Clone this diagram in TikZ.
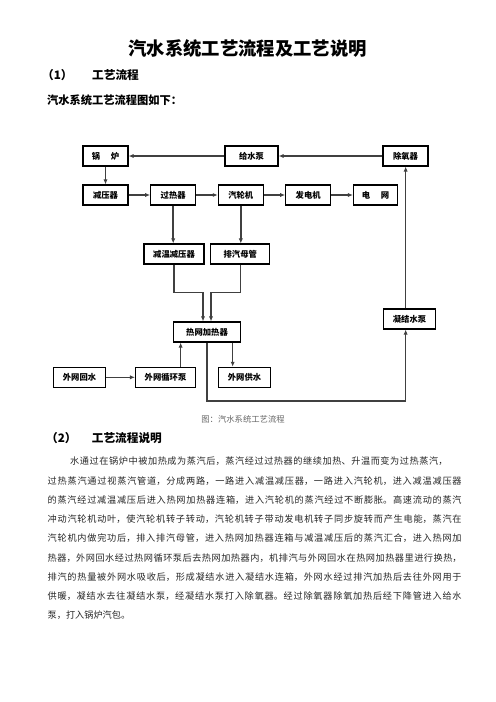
\documentclass[tikz,border=0pt]{standalone}
\usepackage{fontspec}
\setmainfont{Noto Sans CJK SC}
\usetikzlibrary{arrows.meta}
\XeTeXlinebreaklocale "zh"
\XeTeXlinebreakskip=0pt plus 2pt
\begin{document}
\begin{tikzpicture}[x=1.2pt,y=-1.2pt,
            >={Latex[length=6pt,width=5pt]},
            box/.style={draw,line width=1.3pt,minimum height=24pt,inner sep=0pt,
                font=\bfseries\fontsize{10}{12}\selectfont},
            flow/.style={->,draw=black!75,line width=1.8pt}]
            \useasboundingbox (0,0) rectangle (496,702);

            % Titolo
            \node[font=\bfseries\fontsize{22}{24}\selectfont] (T) at (247.5,48.5) {汽水系统工艺流程及工艺说明};
            \node[anchor=west,inner sep=0pt,font=\bfseries\fontsize{14}{16}\selectfont] (N1) at (42,75) {（1）};
            \node[anchor=west,inner sep=0pt,font=\bfseries\fontsize{14}{16}\selectfont] (S1) at (92,75) {工艺流程};
            \node[anchor=west,inner sep=0pt,font=\bfseries\fontsize{13.5}{16}\selectfont] (D) at (47,100) {汽水系统工艺流程图如下：};

            % Riga 1
            \node[box,minimum width=45*1.2pt] (GL) at (105.5,156) {锅\hspace{1.3em}炉};
            \node[box,minimum width=53*1.2pt] (GS) at (251.5,156) {给水泵};
            \node[box,minimum width=45*1.2pt] (CY) at (405.5,156) {除氧器};

            % Riga 2
            \node[box,minimum width=45*1.2pt] (JY) at (105.5,195) {减压器};
            \node[box,minimum width=45*1.2pt] (GR) at (173.2,195) {过热器};
            \node[box,minimum width=45*1.2pt] (QL) at (240.8,195) {汽轮机};
            \node[box,minimum width=45*1.2pt] (FD) at (308.2,195) {发电机};
            \node[box,minimum width=44*1.2pt] (DW) at (375.5,195) {电\hspace{1.3em}网};

            % Riga 3
            \node[box,minimum width=60*1.2pt] (JW) at (174,254) {减温减压器};
            \node[box,minimum width=59*1.2pt] (PQ) at (240.3,254) {排汽母管};

            % Riscaldatore e pompe
            \node[box,minimum width=67*1.2pt] (RW) at (207,332) {热网加热器};
            \node[box,minimum width=52*1.2pt] (NJ) at (409.5,319) {凝结水泵};
            \node[box,minimum width=52*1.2pt] (HS) at (79.5,377.3) {外网回水};
            \node[box,minimum width=60*1.2pt] (XH) at (165.5,377.3) {外网循环泵};
            \node[box,minimum width=52*1.2pt] (GW) at (244.5,377.3) {外网供水};

            % Punti di uscita
            \coordinate (XHo) at ([xshift=18.2pt]XH.north);
            \coordinate (RWo) at ([xshift=30.8pt]RW.south);
            \coordinate (NJi) at ([xshift=-4.6pt]NJ.south);
            \coordinate (NJo) at ([xshift=-4.6pt]NJ.north);

            % Collegamenti
            \draw[flow] (GS) -- (GL);
            \draw[flow] (CY) -- (GS);
            \draw[flow] (GL) -- (JY);
            \draw[flow] (JY) -- (GR);
            \draw[flow] (GR) -- (QL);
            \draw[flow] (QL) -- (FD);
            \draw[flow] (FD) -- (DW);
            \draw[flow] (GR.south) -- (GR.south |- JW.north);
            \draw[flow] (QL.south) -- (QL.south |- PQ.north);
            \draw[flow] (JW.south) -- ++(0,28) -| ([xshift=-4.8pt]RW.north);
            \draw[flow] (PQ.south) -- ++(0,28) -| ([xshift=4.8pt]RW.north);
            \draw[flow] (HS) -- (XH);
            \draw[flow] (XHo) -- (XHo |- RW.south);
            \draw[flow] (RWo) -- (RWo |- GW.north);
            \draw[flow] (RW.south) -- ++(0,58.7) -| (NJi);
            \draw[flow] (NJo) -- (NJo |- CY.south);

            % Didascalia
            \node[font=\fontsize{10}{12}\selectfont,text=black!60] (CAP) at (243,419) {图：汽水系统工艺流程};

            % Sezione 2
            \node[anchor=west,inner sep=0pt,font=\bfseries\fontsize{14}{16}\selectfont] (N2) at (46,438.3) {（2）};
            \node[anchor=west,inner sep=0pt,font=\bfseries\fontsize{14}{16}\selectfont] (S2) at (91.7,438.3) {工艺流程说明};

            % Testo
            \node[anchor=north west,inner sep=0pt,text width=414*1.2pt,align=justify,
                font=\fontsize{11}{23.1}\selectfont,text=black!85] (P) at (47.5,457) {%
\hspace*{27pt}水通过在锅炉中被加热成为蒸汽后，蒸汽经过过热器的继续加热、升温而变为过热蒸汽，\hspace*{17pt}\linebreak%
过热蒸汽通过视蒸汽管道，分成两路，一路进入减温减压器，一路进入汽轮机，进入减温减压器\linebreak%
的蒸汽经过减温减压后进入热网加热器连箱，进入汽轮机的蒸汽经过不断膨胀。高速流动的蒸汽\linebreak%
冲动汽轮机动叶，使汽轮机转子转动，汽轮机转子带动发电机转子同步旋转而产生电能，蒸汽在\linebreak%
汽轮机内做完功后，排入排汽母管，进入热网加热器连箱与减温减压后的蒸汽汇合，进入热网加\linebreak%
热器，外网回水经过热网循环泵后去热网加热器内，机排汽与外网回水在热网加热器里进行换热，\linebreak%
排汽的热量被外网水吸收后，形成凝结水进入凝结水连箱，外网水经过排汽加热后去往外网用于\linebreak%
供暖，凝结水去往凝结水泵，经凝结水泵打入除氧器。经过除氧器除氧加热后经下降管进入给水\linebreak%
泵，打入锅炉汽包。};
\end{tikzpicture}
\end{document}
